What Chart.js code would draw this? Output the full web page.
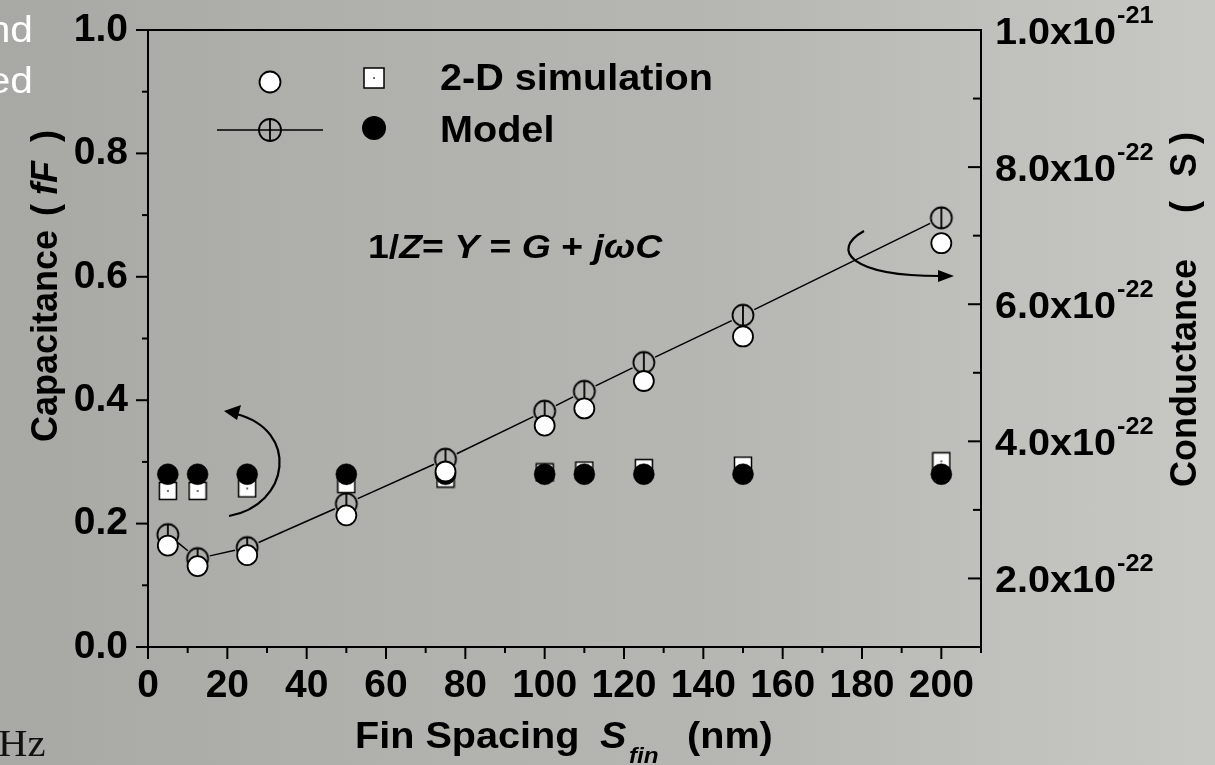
<!DOCTYPE html>
<html><head><meta charset="utf-8">
<script src="https://cdn.jsdelivr.net/npm/chart.js@4"></script>
<style>
html,body{margin:0;padding:0;width:1215px;height:765px;overflow:hidden;}
body{background:linear-gradient(90deg,#a8a9a4 0%,#b0b1ac 30%,#b6b7b2 60%,#c0c1bc 82%,#c7c8c3 100%);}
canvas{display:block}
</style></head><body>
<canvas id="c" width="1215" height="765"></canvas>
<script>
// ---- data ----
const finSpacing = [5, 12.5, 25, 50, 75, 100, 110, 125, 150, 200];
const capSim     = [0.253, 0.253, 0.257, 0.264, 0.273, 0.283, 0.286, 0.290, 0.294, 0.301];
const capModel   = [0.280, 0.280, 0.280, 0.280, 0.280, 0.280, 0.280, 0.280, 0.280, 0.280];
const condSim    = [2.48e-22, 2.18e-22, 2.34e-22, 2.92e-22, 3.56e-22, 4.23e-22, 4.48e-22, 4.88e-22, 5.53e-22, 6.89e-22];
const condModel  = [2.64e-22, 2.29e-22, 2.45e-22, 3.09e-22, 3.74e-22, 4.44e-22, 4.73e-22, 5.15e-22, 5.84e-22, 7.26e-22];
const xTickValues = [0, 20, 40, 60, 80, 100, 120, 140, 160, 180, 200];
const capTickLabels = ['0.0', '0.2', '0.4', '0.6', '0.8', '1.0'];
const condTickValues = [2e-22, 4e-22, 6e-22, 8e-22, 1e-21];
const condTickMantissa = ['2.0x10', '4.0x10', '6.0x10', '8.0x10', '1.0x10'];
const condTickExponent = ['-22', '-22', '-22', '-22', '-21'];

const SANS = '"Liberation Sans", Arial, sans-serif';
const SX = 1.1; // horizontal stretch of the original slide text

// ---- marker images ----
function makeSquare(){
  const c=document.createElement('canvas'); c.width=20; c.height=20;
  const g=c.getContext('2d');
  g.fillStyle='#fff'; g.fillRect(1.5,1.5,17,17);
  g.strokeStyle='#000'; g.lineWidth=1.5; g.strokeRect(1.5,1.5,17,17);
  g.fillStyle='#000'; g.fillRect(9.3,9.3,1.5,1.5);
  return c;
}
function makeCrossed(){
  const c=document.createElement('canvas'); c.width=26; c.height=26;
  const g=c.getContext('2d');
  g.strokeStyle='#000'; g.lineWidth=1.8;
  g.beginPath(); g.arc(13,13,10.5,0,Math.PI*2); g.stroke();
  g.beginPath(); g.moveTo(13,2.5); g.lineTo(13,23.5); g.stroke();
  return c;
}
const sqImg = makeSquare();
const crImg = makeCrossed();

function pts(ys){ return finSpacing.map((x,i)=>({x:x, y:ys[i]})); }

function txt(ctx, s, x, y, font, align){
  ctx.save();
  ctx.font=font; ctx.textAlign=align||'left'; ctx.textBaseline='alphabetic';
  ctx.translate(x,y); ctx.scale(SX,1);
  ctx.fillText(s,0,0);
  const w=ctx.measureText(s).width*SX;
  ctx.restore();
  return w;
}
function noPad(s){ s.paddingTop=0; s.paddingBottom=0; s.paddingLeft=0; s.paddingRight=0; }

// ---- decorations plugin ----
const deco = {
  id:'deco',
  beforeDatasetsDraw(chart){
    const ctx=chart.ctx;
    const meta=chart.getDatasetMeta(3);
    ctx.save();
    ctx.strokeStyle='#000'; ctx.lineWidth=1.5;
    for(let i=0;i<meta.data.length-1;i++){
      const a=meta.data[i], b=meta.data[i+1];
      const dx=b.x-a.x, dy=b.y-a.y, d=Math.hypot(dx,dy), g=12.5;
      if(d<=2*g) continue;
      const ux=dx/d, uy=dy/d;
      ctx.beginPath();
      ctx.moveTo(a.x+ux*g, a.y+uy*g);
      ctx.lineTo(b.x-ux*g, b.y-uy*g);
      ctx.stroke();
    }
    ctx.restore();
  },
  afterDraw(chart){
    const ctx=chart.ctx, ca=chart.chartArea;
    const sx=chart.scales.x, sl=chart.scales.yL, sr=chart.scales.yR;
    ctx.save();
    ctx.strokeStyle='#000'; ctx.fillStyle='#000'; ctx.lineWidth=2; ctx.lineCap='butt';
    ctx.beginPath(); ctx.moveTo(ca.left-1, ca.top); ctx.lineTo(ca.right+1, ca.top); ctx.stroke();
    for(let v=0; v<=210; v+=10){
      const p=sx.getPixelForValue(v), L=(v%20===0)?12:6;
      ctx.beginPath(); ctx.moveTo(p, ca.bottom); ctx.lineTo(p, ca.bottom+L); ctx.stroke();
    }
    for(let k=0;k<=10;k++){
      const p=sl.getPixelForValue(k/10), L=(k%2===0)?12:6;
      ctx.beginPath(); ctx.moveTo(ca.left, p); ctx.lineTo(ca.left-L, p); ctx.stroke();
    }
    for(let k=1;k<=10;k++){
      const p=sr.getPixelForValue(k*1e-22), L=(k%2===0)?13:8;
      ctx.beginPath(); ctx.moveTo(ca.right, p); ctx.lineTo(ca.right-L, p); ctx.stroke();
    }
    // right tick labels with superscripts
    condTickValues.forEach((v,i)=>{
      const p=sr.getPixelForValue(v);
      const w=txt(ctx, condTickMantissa[i], 995, p+14, 'bold 36px '+SANS);
      txt(ctx, condTickExponent[i], 995+w+1, p-7, 'bold 23px '+SANS);
    });
    // left axis title
    ctx.save();
    ctx.translate(57, 442); ctx.rotate(-Math.PI/2);
    ctx.textAlign='left'; ctx.textBaseline='alphabetic';
    ctx.font='bold 36px '+SANS;
    ctx.fillText('Capacitance', 0, 0);
    ctx.fillText('(', 226, 0);
    ctx.font='italic bold 36px '+SANS;
    ctx.fillText('fF', 247, 0);
    ctx.font='bold 36px '+SANS;
    ctx.fillText(')', 300, 0);
    ctx.restore();
    // right axis title
    ctx.save();
    ctx.translate(1196, 487); ctx.rotate(-Math.PI/2);
    ctx.textAlign='left'; ctx.textBaseline='alphabetic';
    ctx.font='bold 36px '+SANS;
    ctx.fillText('Conductance', 0, 0);
    ctx.fillText('(', 274, 0);
    ctx.fillText('S', 310, 0);
    ctx.fillText(')', 343, 0);
    ctx.restore();
    // x axis title
    txt(ctx, 'Fin Spacing', 355, 748, 'bold 36px '+SANS);
    txt(ctx, 'S', 600, 748, 'italic bold 36px '+SANS);
    txt(ctx, 'fin', 629, 763, 'italic bold 22px '+SANS);
    txt(ctx, '(nm)', 687, 748, 'bold 36px '+SANS);
    // equation
    const parts=[['1/',0],['Z',1],['= ',0],['Y',1],[' = ',0],['G',1],[' + ',0],['j\u03C9C',1]];
    let xx=368;
    parts.forEach(([t,it])=>{
      xx+=txt(ctx, t, xx, 258, (it?'italic ':'')+'bold 34px '+SANS);
    });
    // legend
    ctx.lineWidth=1.5;
    ctx.beginPath(); ctx.moveTo(217,130); ctx.lineTo(323,130); ctx.stroke();
    ctx.lineWidth=1.8;
    ctx.beginPath(); ctx.arc(270,82,10.5,0,Math.PI*2); ctx.fillStyle='#fff'; ctx.fill(); ctx.stroke();
    ctx.fillStyle='#fff'; ctx.fillRect(364,68,20,20); ctx.lineWidth=1.5; ctx.strokeRect(364,68,20,20);
    ctx.fillStyle='#000'; ctx.fillRect(373.3,77.3,1.5,1.5);
    ctx.lineWidth=1.8;
    ctx.beginPath(); ctx.arc(270,130,11,0,Math.PI*2); ctx.stroke();
    ctx.beginPath(); ctx.moveTo(270,119); ctx.lineTo(270,141); ctx.stroke();
    ctx.beginPath(); ctx.arc(374,128,12,0,Math.PI*2); ctx.fillStyle='#000'; ctx.fill();
    txt(ctx, '2-D simulation', 440, 90, 'bold 36px '+SANS);
    txt(ctx, 'Model', 440, 142, 'bold 36px '+SANS);
    // arrows
    ctx.lineWidth=2.2; ctx.strokeStyle='#000'; ctx.fillStyle='#000';
    ctx.beginPath(); ctx.moveTo(229,516); ctx.bezierCurveTo(290,505,300,430,236,414); ctx.stroke();
    ctx.beginPath(); ctx.moveTo(224,411); ctx.lineTo(241,405); ctx.lineTo(237,420); ctx.closePath(); ctx.fill();
    ctx.beginPath(); ctx.moveTo(864,231); ctx.bezierCurveTo(830,250,850,276,940,276); ctx.stroke();
    ctx.beginPath(); ctx.moveTo(954,276); ctx.lineTo(938,270); ctx.lineTo(938,282); ctx.closePath(); ctx.fill();
    // stray slide text
    ctx.fillStyle='#fff';
    txt(ctx, 'nd', 33, 42, '37px '+SANS, 'right');
    txt(ctx, 'ed', 33, 93, '37px '+SANS, 'right');
    ctx.fillStyle='#111';
    txt(ctx, 'Hz', -2, 756, '37px "Liberation Serif", "Times New Roman", serif');
    ctx.restore();
  }
};

const tickFont = {family:SANS, weight:'bold', size:39};
new Chart(document.getElementById('c'), {
  type:'scatter',
  data:{datasets:[
    {label:'2-D simulation G', data:pts(condSim), yAxisID:'yR', pointStyle:'circle', pointRadius:10, pointBackgroundColor:'#fff', pointBorderColor:'#000', pointBorderWidth:1.8, order:1},
    {label:'Model C', data:pts(capModel), yAxisID:'yL', pointStyle:'circle', pointRadius:10.5, pointBackgroundColor:'#000', pointBorderColor:'#000', pointBorderWidth:0.5, order:2},
    {label:'2-D simulation C', data:pts(capSim), yAxisID:'yL', pointStyle:sqImg, pointRadius:10, order:3},
    {label:'Model G', data:pts(condModel), yAxisID:'yR', pointStyle:crImg, pointRadius:12, showLine:false, order:4}
  ]},
  options:{
    responsive:false, animation:false, events:[],
    layout:{padding:{top:30, left:0, right:0, bottom:0}, autoPadding:false},
    plugins:{legend:{display:false}, tooltip:{enabled:false}},
    scales:{
      x:{type:'linear', position:'bottom', min:0, max:210,
        afterFit(s){ s.height=118; noPad(s); },
        afterBuildTicks(s){ s.ticks = xTickValues.map(v=>({value:v})); },
        grid:{display:false, drawTicks:false},
        border:{display:true, color:'#000', width:2},
        ticks:{padding:16, color:'#000', font:tickFont, maxRotation:0, autoSkip:false, callback:(v)=>String(v)}},
      yL:{type:'linear', position:'left', min:0, max:1,
        afterFit(s){ s.width=148; noPad(s); },
        afterBuildTicks(s){ s.ticks = capTickLabels.map(t=>({value:parseFloat(t)})); },
        grid:{display:false, drawTicks:false},
        border:{display:true, color:'#000', width:2},
        ticks:{padding:20, color:'#000', font:tickFont, callback:(v,i)=>capTickLabels[i]}},
      yR:{type:'linear', position:'right', min:1e-22, max:1e-21,
        afterFit(s){ s.width=234; noPad(s); },
        grid:{display:false, drawTicks:false},
        border:{display:true, color:'#000', width:2},
        ticks:{display:false}}
    }
  },
  plugins:[deco]
});
</script>
</body></html>
